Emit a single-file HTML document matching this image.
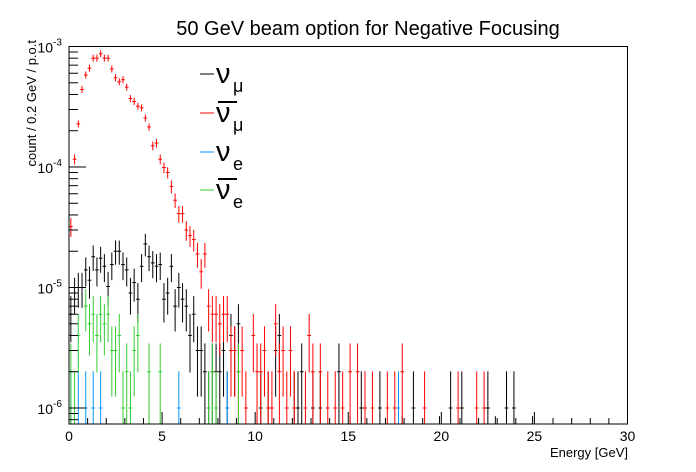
<!DOCTYPE html>
<html><head><meta charset="utf-8">
<style>
html,body{margin:0;padding:0;background:#fff;}
svg{display:block;font-family:"Liberation Sans",sans-serif;}
</style></head>
<body>
<svg id="chart" width="696" height="472" viewBox="0 0 696 472" xmlns="http://www.w3.org/2000/svg">
  <rect x="0" y="0" width="696" height="472" fill="#fff"/>
  <text x="368" y="35" text-anchor="middle" font-size="20">50 GeV beam option for Negative Focusing</text>
  <text transform="translate(36,40) rotate(-90)" text-anchor="end" font-size="13">count / 0.2 GeV / p.o.t</text>
  <text x="628" y="457" text-anchor="end" font-size="13">Energy [GeV]</text>
  <g id="marks"></g>
  <g id="axes"></g>
  <g>
    <g>
      <line x1="200" y1="74" x2="214" y2="74" stroke="#000" stroke-width="1"/>
      <text x="216" y="83" font-size="29">ν</text><text x="233" y="92" font-size="18">μ</text>
    </g>
    <g>
      <line x1="200" y1="113" x2="214" y2="113" stroke="#f00" stroke-width="1"/>
      <text x="216" y="122" font-size="29">ν</text><line x1="218" y1="102" x2="237" y2="102" stroke="#000" stroke-width="2"/><text x="233" y="131" font-size="18">μ</text>
    </g>
    <g>
      <line x1="200" y1="152" x2="214" y2="152" stroke="#0096ff" stroke-width="1"/>
      <text x="216" y="161" font-size="29">ν</text><text x="233" y="170" font-size="18">e</text>
    </g>
    <g>
      <line x1="200" y1="190" x2="214" y2="190" stroke="#33cc33" stroke-width="1"/>
      <text x="216" y="199" font-size="29">ν</text><line x1="218" y1="179" x2="237" y2="179" stroke="#000" stroke-width="2"/><text x="233" y="208" font-size="18">e</text>
    </g>
  </g>
</svg>
<script>
const NS = "http://www.w3.org/2000/svg";
const binWidth = 0.2;
const eventWeight = 1.03e-6;
const xTicks = [0, 5, 10, 15, 20, 25, 30];
const yDecades = [-6, -5, -4, -3];

const numubarBins = [0,1,2,3,4,5,6,7,8,9,10,11,12,13,14,15,16,17,18,19,20,21,22,23,24,25,26,27,28,29,30,31,32,33,34,35,36,37,38,39,40,41,42,43,44,45,46,47,49,50,51,52,53,54,55,56,57,58,59,60,63,64,65,67,69,71,73,75,77,79,81,85,87,89,95,104,109,111];
const numubarVals = [3.2e-5,1.16e-4,2.28e-4,4.4e-4,5.8e-4,6.6e-4,8.0e-4,8.0e-4,8.7e-4,8.0e-4,8.0e-4,6.5e-4,5.5e-4,5.1e-4,5.3e-4,4.6e-4,3.7e-4,3.5e-4,3.2e-4,3.1e-4,2.55e-4,2.15e-4,1.5e-4,1.58e-4,1.16e-4,9.9e-5,9.0e-5,6.9e-5,5.3e-5,4.1e-5,4.1e-5,3.0e-5,2.7e-5,2.5e-5,1.9e-5,1.35e-5,1.9e-5,7e-6,6e-6,6e-6,5e-6,6e-6,6e-6,3e-6,3e-6,2e-6,3e-6,1e-6,4e-6,2e-6,2e-6,3e-6,1e-6,1e-6,5e-6,2e-6,3e-6,1e-6,3e-6,1e-6,1e-6,4e-6,2e-6,2e-6,1e-6,1e-6,1e-6,2e-6,2e-6,1e-6,1e-6,1e-6,1e-6,2e-6,1e-6,1e-6,1e-6,1e-6];

const numuBins = [0,1,2,3,4,5,6,7,8,9,10,11,12,13,14,15,16,17,18,19,20,21,22,23,24,25,26,27,28,29,30,31,32,33,34,35,36,37,38,39,40,41,42,43,44,45,50,51,53,55,56,60,61,62,65,67,72,75,78,79,83,89,92,99,102,105,112,114,117,119,124];
const numuVals = [6e-6,9e-6,1e-5,1e-5,1.4e-5,1.15e-5,1.8e-5,1.4e-5,1.75e-5,1.5e-5,1.02e-5,1.55e-5,2e-5,2e-5,1.55e-5,1.4e-5,9e-6,1.1e-5,8e-6,1.5e-5,2.3e-5,1.8e-5,1.6e-5,1.5e-5,1.55e-5,8e-6,9e-6,1.5e-5,7e-6,1e-5,8e-6,7e-6,4e-6,6e-6,3e-6,3e-6,2e-6,1e-6,2e-6,2e-6,2e-6,3e-6,1e-6,4e-6,3e-6,5e-6,3e-7,1e-6,1e-6,3e-6,4e-6,1e-6,1e-6,2e-6,1e-6,1e-6,2e-6,3e-7,1e-6,1e-6,1e-6,3e-7,1e-6,3e-7,1e-6,1e-6,1e-6,3e-7,1e-6,1e-6,3e-7];

const nueBins = [0,2,4,6,8,29,42,88];
const nueVals = [1e-6,1e-6,1e-6,1e-6,1e-6,1e-6,1e-6,1e-6];

const nuebarBins = [0,1,2,4,5,6,7,8,9,10,11,12,13,14,15,16,17,18,21,24,37,38,39,45];
const nuebarVals = [2e-6,1e-6,4e-6,7e-6,5e-6,6e-6,4e-6,6e-6,5e-6,6e-6,3e-6,3e-6,4e-6,1e-6,2e-6,1e-6,3e-6,4e-6,2e-6,2e-6,1e-6,2e-6,1e-6,2e-6];

const X0 = 69, X1 = 627.5, Y0 = 424, YTOP = 46.5;
const xMin = 0, xMax = 30;
const decadePx = 120.5;
function xs(e){ return X0 + (e - xMin) / (xMax - xMin) * (X1 - X0); }
function ys(v){ return YTOP + (-3 - Math.log10(v)) * decadePx; }
const yMinVal = Math.pow(10, -3 - (Y0 - YTOP) / decadePx);

const marks = document.getElementById('marks');
const axes = document.getElementById('axes');
function mk(tag, attrs, parent){
  const el = document.createElementNS(NS, tag);
  for (const k in attrs) el.setAttribute(k, attrs[k]);
  parent.appendChild(el);
  return el;
}
function clampY(y){ return Math.max(YTOP, Math.min(Y0, y)); }

function drawSeries(bins, vals, color, name, minHalfPx){
  const g = mk('g', {}, marks);
  
  
  bins.forEach((b, i) => {
    const v = vals[i];
    const e = Math.sqrt(v * eventWeight);
    const xc = xs((b + 0.5) * binWidth);
    const xl = xs(b * binWidth), xr = xs((b + 1) * binWidth);
    const yc = ys(v);
    let yTop = clampY(Math.min(ys(v + e), yc - minHalfPx));
    const lo = v - e;
    let yBot = lo > yMinVal ? clampY(Math.max(ys(lo), yc + minHalfPx)) : Y0;
    const p = mk('g', {stroke: color, 'stroke-width': 1}, g);
    
    
    mk('line', {x1: xc, y1: yTop, x2: xc, y2: yBot}, p);
    if (v >= yMinVal) {
      mk('line', {x1: xl, y1: yc, x2: xr, y2: yc}, p);
    }
  });
}
drawSeries(numuBins, numuVals, '#000', 'numu', 0);
drawSeries(numubarBins, numubarVals, '#ff0000', 'numubar', 3.5);
drawSeries(nueBins, nueVals, '#0096ff', 'nue', 0);
drawSeries(nuebarBins, nuebarVals, '#33cc33', 'nuebar', 0);

const frame = mk('rect', {x: X0, y: YTOP, width: X1 - X0, height: Y0 - YTOP, fill: 'none', stroke: '#000', 'stroke-width': 1}, axes);



for (let t = 0; t <= 30; t++) {
  const x = xs(t);
  const len = (t % 5 === 0) ? 12 : 6;
  mk('line', {x1: x, y1: Y0, x2: x, y2: Y0 - len, stroke: '#000', 'stroke-width': 1}, axes);
}
xTicks.forEach(t => {
  const tx = mk('text', {x: xs(t), y: 441, 'text-anchor': 'middle', 'font-size': 14}, axes);
  
  
  tx.textContent = String(t);
});

for (let d = -7; d <= -3; d++) {
  for (let m = 1; m <= 9; m++) {
    const v = m * Math.pow(10, d);
    if (v < yMinVal || v > 1.0001e-3) continue;
    const y = ys(v);
    const len = (m === 1) ? 17 : 9;
    mk('line', {x1: X0, y1: y, x2: X0 + len, y2: y, stroke: '#000', 'stroke-width': 1}, axes);
  }
}
yDecades.forEach(d => {
  const y = ys(Math.pow(10, d));
  const tx = mk('text', {x: 53, y: y + 6, 'text-anchor': 'end', 'font-size': 14}, axes);
  
  
  tx.textContent = '10';
  const sup = mk('text', {x: 53, y: y - 1, 'text-anchor': 'start', 'font-size': 10}, axes);
  sup.textContent = String(d);
});
</script>
</body></html>
